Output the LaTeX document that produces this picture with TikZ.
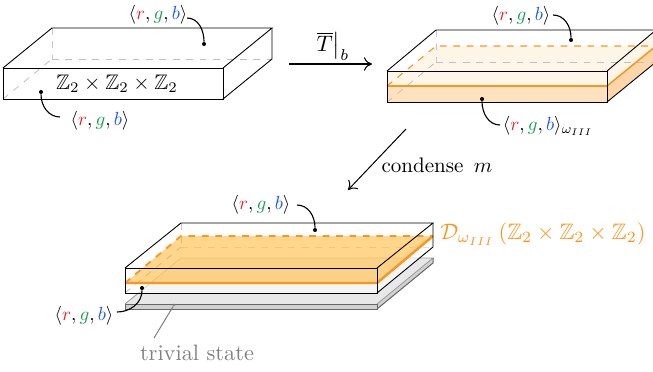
\documentclass[tikz,border=0pt]{standalone}
\usepackage{amsmath}
\usepackage{amssymb}
\usepackage{color}
\usepackage{tikz}
\usetikzlibrary{arrows.meta, positioning}
\definecolor{cred}{RGB}{240,30,40}
\definecolor{cgreen}{RGB}{20,160,80}
\definecolor{cblue}{RGB}{30,90,240}
\definecolor{corange}{RGB}{250,150,30}
\definecolor{cplane}{RGB}{255,175,25}
\newcommand{\rgbgens}{\langle{\color{cred}r},{\color{cgreen}g},{\color{cblue}b}\rangle}
\tikzstyle{edge} = [line width=0.4pt, black]
\tikzstyle{hidden} = [line width=0.35pt, dashed, black!25]
\tikzstyle{hiddenv} = [line width=0.35pt, dashed, cred!35!black!25]
\tikzstyle{wall} = [line width=0.7pt, corange]
\tikzstyle{wallback} = [line width=0.5pt, dashed, corange]
\tikzstyle{leader} = [line width=0.5pt, black]
\tikzstyle{dot} = [circle, fill=black, inner sep=0pt, minimum size=1.8pt]
\tikzstyle{gens} = [scale=0.85, inner sep=0pt]
\tikzstyle{smalltext} = [scale=0.94, inner sep=0pt]
\tikzstyle{arrow} = [line width=0.45pt, -{Computer Modern Rightarrow[length=3.6pt,width=6pt]}]

\begin{document}
\begin{tikzpicture}[x=0.447pt, y=-0.447pt]
\useasboundingbox (0,0) rectangle (653,371);
\clip (0,0) rectangle (653,371);

% Left slab
\draw [hiddenv] (52,28) -- (52,59);
\draw [hidden] (52,59) -- (272,59);
\draw [hidden] (3,99) -- (52,59);
\draw [edge] (3,68) rectangle (223,99);
\draw [edge] (3,68) -- (52,28) -- (272,28) -- (223,68);
\draw [edge] (272,28) -- (272,59) -- (223,99);
\node [smalltext] (symA) at (117,84) {$\mathbb{Z}_2\times\mathbb{Z}_2\times\mathbb{Z}_2$};
\node [gens] (topA) at (158,15) {$\rgbgens$};
\node [gens] (botA) at (100,121) {$\rgbgens$};
\coordinate (startTopA) at (187,18);
\coordinate (startBotA) at (60,117);
\node [dot] (dotTopA) at (204,44) {};
\node [dot] (dotBotA) at (41,92) {};
\draw [leader] (startTopA) to[out=0, in=90] (dotTopA);
\draw [leader] (startBotA) to[out=180, in=-90] (dotBotA);

% Right slab
\fill [corange!10] (436,46) -- (656,46) -- (607,86) -- (387,86) -- cycle;
\fill [corange!10] (387,71) rectangle (607,86);
\fill [corange!28] (387,86) rectangle (607,102);
\fill [corange!10] (607,71) -- (656,30) -- (656,46) -- (607,86) -- cycle;
\fill [corange!38] (607,86) -- (656,46) -- (656,62) -- (607,102) -- cycle;
\draw [hiddenv] (436,30) -- (436,62);
\draw [hidden] (436,62) -- (656,62);
\draw [hidden] (387,102) -- (436,62);
\draw [wallback] (387,86) -- (436,46) -- (656,46);
\draw [wall] (387,86) -- (607,86) -- (656,46);
\draw [edge] (387,71) rectangle (607,102);
\draw [edge] (387,71) -- (436,30) -- (656,30) -- (607,71);
\draw [edge] (656,62) -- (607,102);
\node [gens] (topB) at (521,16) {$\rgbgens$};
\node [gens] (botB) at (548,126) {$\rgbgens_{\omega_{III}}$};
\coordinate (startTopB) at (553,15);
\coordinate (startBotB) at (500,125);
\node [dot] (dotTopB) at (571,40) {};
\node [dot] (dotBotB) at (482,99) {};
\draw [leader] (startTopB) to[out=0, in=90] (dotTopB);
\draw [leader] (startBotB) to[out=180, in=-90] (dotBotB);

% Arrows
\coordinate (arrTailA) at (289,64);
\coordinate (arrHeadA) at (372,64);
\draw [arrow] (arrTailA) -- (arrHeadA);
\node (opT) at (333,46) {$\overline{T}\big|_b$};
\coordinate (arrTailB) at (406,129);
\coordinate (arrHeadB) at (348,190);
\draw [arrow] (arrTailB) -- (arrHeadB);
\node [smalltext] (condense) at (437,165) {condense $\,m$};

% Bottom stack: trivial slab
\fill [black!9] (125,304) -- (181,258) -- (433,258) -- (377,304) -- cycle;
\fill [black!18] (125,304) rectangle (377,309);
\fill [black!18] (377,304) -- (433,258) -- (433,263) -- (377,309) -- cycle;
\draw [line width=0.35pt, black!40] (125,304) -- (181,258) -- (433,258) -- (377,304);
\draw [line width=0.45pt, black!60] (125,304) rectangle (377,309);
\draw [line width=0.45pt, black!60] (433,258) -- (433,263) -- (377,309);

% Bottom stack: thick slab
\fill [white, opacity=0.6] (125,268) -- (181,223) -- (433,223) -- (433,247) -- (377,293) -- (125,293) -- cycle;
\draw [hiddenv] (181,223) -- (181,247);
\draw [line width=0.35pt, dashed, black!12] (181,247) -- (433,247);
\draw [hidden] (125,293) -- (181,247);
\fill [cplane, opacity=0.5] (125,283) -- (181,236) -- (433,236) -- (377,283) -- cycle;
\draw [line width=0.8pt, dashed, corange] (125,283) -- (181,236) -- (433,236);
\draw [line width=1.1pt, corange] (125,283) -- (377,283) -- (433,236);
\draw [edge] (125,268) rectangle (377,293);
\draw [edge] (125,268) -- (181,223) -- (433,223) -- (377,268);
\draw [edge] (433,223) -- (433,247) -- (377,293);

% Bottom stack: labels
\node [gens] (topC) at (261,205) {$\rgbgens$};
\node [gens] (botC) at (84,316) {$\rgbgens$};
\coordinate (startTopC) at (297,205);
\coordinate (startBotC) at (117,312);
\node [dot] (dotTopC) at (315,230) {};
\node [dot] (dotBotC) at (142,288) {};
\draw [leader] (startTopC) to[out=0, in=90] (dotTopC);
\draw [leader] (startBotC) to[out=0, in=-90] (dotBotC);
\node [text=corange, anchor=west, inner sep=0pt] (defect) at (440,234) {$\mathcal{D}_{\omega_{III}}\left(\mathbb{Z}_2\times\mathbb{Z}_2\times\mathbb{Z}_2\right)$};
\node [text=black!50] (trivial) at (197,353) {trivial state};
\node [dot, fill=black!50, minimum size=1.2pt] (dotTriv) at (174,305) {};
\draw [line width=0.45pt, black!50] (154,338) -- (dotTriv);

\end{tikzpicture}
\end{document}
